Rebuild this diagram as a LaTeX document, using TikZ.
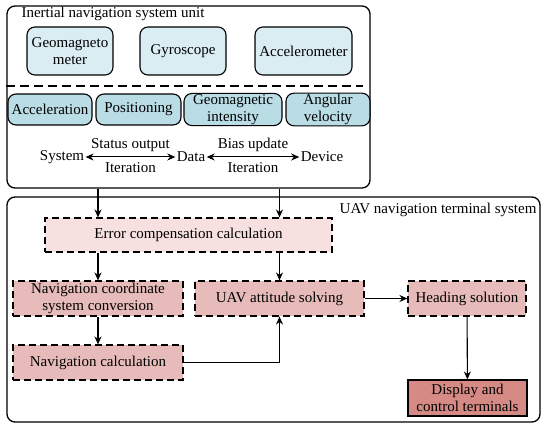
\documentclass[tikz,border=0pt]{standalone}
\usepackage{fontspec}
\setmainfont{Liberation Serif}
\usetikzlibrary{positioning}
\usetikzlibrary{arrows.meta}
\definecolor{sensblue}{RGB}{218,237,242}
\definecolor{measblue}{RGB}{185,220,229}
\definecolor{errpink}{RGB}{246,224,224}
\definecolor{procpink}{RGB}{230,187,186}
\definecolor{disppink}{RGB}{214,138,133}

\begin{document}
\begin{tikzpicture}[x=1pt, y=-1pt, >={Stealth[length=8pt,width=7pt]}, line width=1.1pt,
  every node/.style={font=\rmfamily\fontsize{15}{17}\selectfont, inner sep=1pt},
  unitbox/.style={draw, rounded corners=8pt, line width=1.3pt},
  sensor/.style={draw, rounded corners=8pt, fill=sensblue, align=center, minimum height=48pt},
  measure/.style={draw, rounded corners=8pt, fill=measblue, align=center, minimum height=31pt},
  procbox/.style={draw, dash pattern=on 7pt off 4pt, fill=procpink, align=center, minimum width=170pt, minimum height=35pt}]
	\useasboundingbox (0,0) rectangle (550,428);

	% inertial navigation system unit
	\node[unitbox, minimum width=363pt, minimum height=182pt] (insu) at (188.5,97) {};
	\node[anchor=north west] (insutitle) at (20,6) {Inertial navigation system unit};
	\node[sensor, minimum width=86pt] (geo) at (70,51) {Geomagneto\\meter};
	\node[sensor, minimum width=86pt] (gyro) at (183,51) {Gyroscope};
	\node[sensor, minimum width=97pt] (accm) at (303.5,51) {Accelerometer};
	\draw[dash pattern=on 9pt off 5pt] (insu.west |- 0,86) -- (363,86);

	\node[measure, minimum width=84pt] (accel) at (50,109.5) {Acceleration};
	\node[measure, minimum width=85pt] (posit) at (138.5,109.5) {Positioning};
	\node[measure, minimum width=98pt] (geoint) at (233,109.5) {Geomagnetic\\intensity};
	\node[measure, minimum width=84pt] (angvel) at (328,109.5) {Angular\\velocity};

	\node (sys) at (62,157) {System};
	\node (data) at (191,157) {Data};
	\node (dev) at (322,157) {Device};
	\draw[<->, line width=1pt] (sys) -- node[above=4pt] {Status output} node[below=4pt] {Iteration} (data);
	\draw[<->, line width=1pt] (data) -- node[above=4pt] {Bias update} node[below=4pt] {Iteration} (dev);

	% UAV navigation terminal system
	\node[unitbox, minimum width=533pt, minimum height=225pt] (uavsys) at (273.5,309.5) {};
	\node[anchor=north east] (uavtitle) at (538,202) {UAV navigation terminal system};

	\node[procbox, fill=errpink, minimum width=287pt, minimum height=34pt] (err) at (188.5,235) {Error compensation calculation};
	\node[procbox] (ncs) at (98,298.5) {Navigation coordinate\\system conversion};
	\node[procbox, minimum width=169pt] (uav) at (279.5,298.5) {UAV attitude solving};
	\node[procbox, minimum width=118pt] (head) at (467,298.5) {Heading solution};
	\node[procbox] (ncalc) at (98,362.5) {Navigation calculation};
	\node[draw, fill=disppink, align=center, minimum width=119pt, minimum height=36pt] (disp) at (467.5,398) {Display and\\control terminals};

	\draw[->] (insu.south -| ncs) -- (err.north -| ncs);
	\draw[->] (insu.south -| uav) -- (err.north -| uav);
	\draw[->] (err.south -| ncs) -- (ncs);
	\draw[->] (err.south -| uav) -- (uav);
	\draw[->] (ncs) -- (ncalc);
	\draw[->] (ncalc.east) -| (uav.south);
	\draw[->] (uav) -- (head);
	\draw[->] (head) -- (disp);
\end{tikzpicture}
\end{document}
